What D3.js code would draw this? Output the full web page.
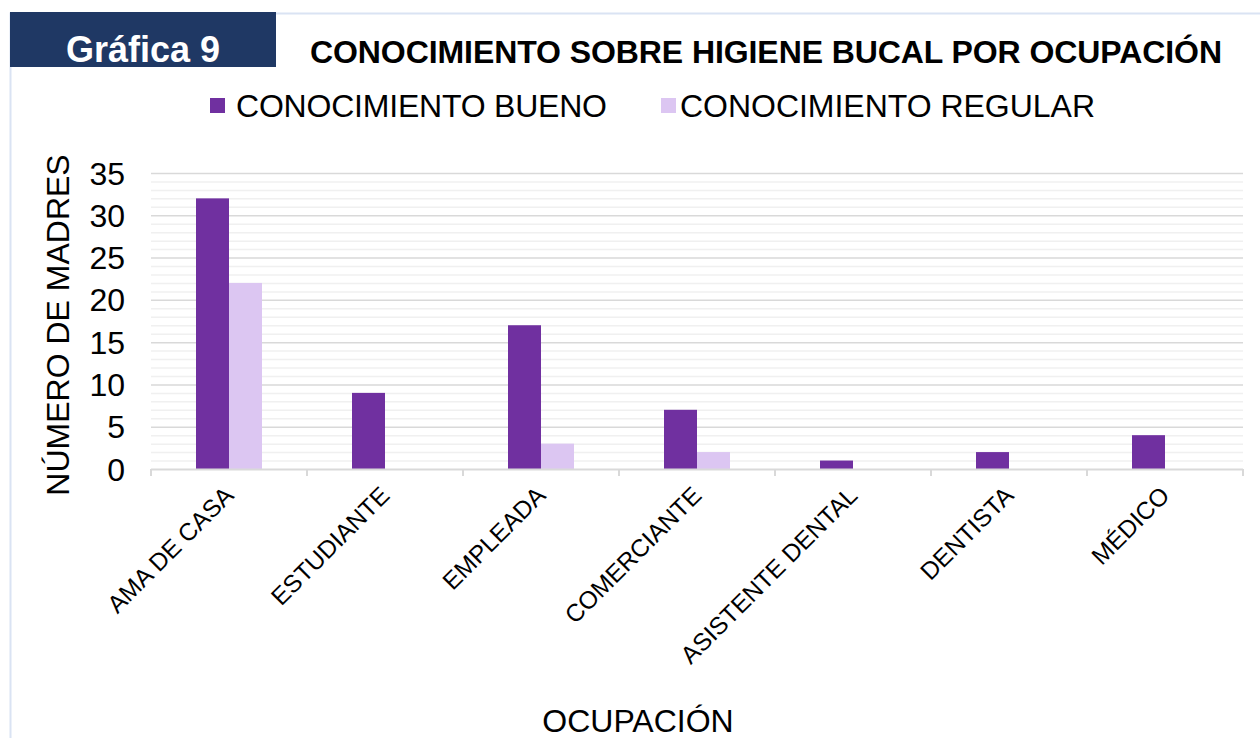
<!DOCTYPE html>
<html><head><meta charset="utf-8">
<script src="https://cdn.jsdelivr.net/npm/d3@7"></script>
<style>body{margin:0;background:#fff}svg{display:block;font-family:Arial,"Liberation Sans",sans-serif}</style>
</head><body><svg id="c" width="1260" height="738"></svg>
<script>
const categories = ["AMA DE CASA","ESTUDIANTE","EMPLEADA","COMERCIANTE","ASISTENTE DENTAL","DENTISTA","MÉDICO"];
const bueno = [32,9,17,7,1,2,4];
const regular = [22,0,3,2,0,0,0];
const seriesNames = ["CONOCIMIENTO BUENO","CONOCIMIENTO REGULAR"];
const yTicks = [0,5,10,15,20,25,30,35];
const colors = ["#7030a0","#dcc6f2"];

const svg = d3.select("#c");
// frame
svg.append("rect").attr("x",10.5).attr("y",13.5).attr("width",1260).attr("height",740)
  .attr("fill","none").attr("stroke","#dae3f3").attr("stroke-width",2);
svg.append("rect").attr("x",10).attr("y",12).attr("width",266).attr("height",55).attr("fill","#1f3864");
svg.append("text").attr("x",143).attr("y",62).attr("text-anchor","middle").attr("fill","#fff")
  .attr("font-size",36).attr("font-weight","bold").text("Gráfica 9");
svg.append("text").attr("x",766).attr("y",63).attr("text-anchor","middle").attr("fill","#000")
  .attr("font-size",32).attr("font-weight","bold").attr("textLength",912).text("CONOCIMIENTO SOBRE HIGIENE BUCAL POR OCUPACIÓN");

// legend
const leg = [{x:210,tx:236,w:371},{x:661,tx:680,w:415}];
seriesNames.forEach((n,i)=>{
  svg.append("rect").attr("x",leg[i].x).attr("y",98).attr("width",15).attr("height",15).attr("fill",colors[i]);
  svg.append("text").attr("x",leg[i].tx).attr("y",117).attr("font-size",32).attr("fill","#000")
    .attr("textLength",leg[i].w).text(n);
});

const x0 = d3.scaleBand().domain(categories).range([151,1243]);
const x1 = d3.scaleBand().domain(seriesNames).range([0,66]);
const y = d3.scaleLinear().domain([0,35]).range([469,173]);

// gridlines
const g = svg.append("g");
g.selectAll("line.minor").data(d3.range(1,36).filter(v=>v%5)).join("line")
  .attr("x1",151).attr("x2",1243).attr("y1",d=>y(d)+0.5).attr("y2",d=>y(d)+0.5)
  .attr("stroke","#f0f0f0").attr("stroke-width",1.5);
g.selectAll("line.major").data(yTicks.slice(1)).join("line")
  .attr("x1",151).attr("x2",1243).attr("y1",d=>y(d)+0.5).attr("y2",d=>y(d)+0.5)
  .attr("stroke","#d9d9d9").attr("stroke-width",1.5);

// bars
const data = [bueno, regular];
categories.forEach((c,ci)=>{
  seriesNames.forEach((s,si)=>{
    const v = data[si][ci];
    if(v>0) svg.append("rect").attr("x",x0(c)+(x0.bandwidth()-66)/2+x1(s)).attr("width",x1.bandwidth())
      .attr("y",y(v)).attr("height",y(0)-y(v)).attr("fill",colors[si]);
  });
});

// x axis
const ax = svg.append("g");
ax.append("line").attr("x1",151).attr("x2",1243).attr("y1",469.5).attr("y2",469.5).attr("stroke","#d9d9d9").attr("stroke-width",2);
ax.selectAll("line.t").data(d3.range(0,8)).join("line")
  .attr("x1",d=>151+d*x0.step()).attr("x2",d=>151+d*x0.step()).attr("y1",469).attr("y2",476)
  .attr("stroke","#d9d9d9").attr("stroke-width",2);
ax.selectAll("text").data(categories).join("text")
  .attr("transform",d=>`translate(${x0(d)+x0.bandwidth()/2+6},${497}) rotate(-45)`)
  .attr("text-anchor","end").attr("font-size",24.5).attr("fill","#000").text(d=>d);

// y axis labels
svg.selectAll("text.yt").data(yTicks).join("text").attr("class","yt")
  .attr("x",125).attr("y",d=>y(d)+11.5).attr("text-anchor","end").attr("font-size",32).attr("fill","#000").text(d=>d);

svg.append("text").attr("transform","translate(69,325) rotate(-90)").attr("text-anchor","middle")
  .attr("font-size",32).attr("fill","#000").text("NÚMERO DE MADRES");
svg.append("text").attr("x",638).attr("y",732).attr("text-anchor","middle").attr("font-size",32).attr("fill","#000").text("OCUPACIÓN");
</script></body></html>
